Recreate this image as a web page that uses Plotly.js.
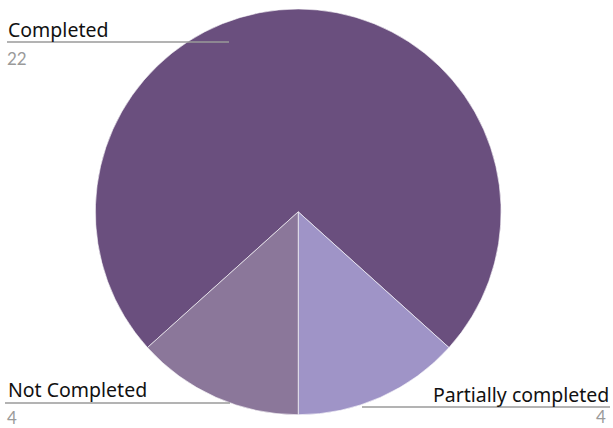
<!DOCTYPE html>
<html>
<head>
<meta charset="utf-8">
<script src="https://cdn.plot.ly/plotly-3.0.1.min.js"></script>
<style>html,body{margin:0;padding:0;background:#fff;}#chart{width:613px;height:428px;}</style>
</head>
<body>
<div id="chart"></div>
<script>
const categories = ["Completed", "Partially completed", "Not Completed"];
const counts = [22, 4, 4];
const colors = ["#6a4f7e", "#9f94c7", "#8b779a"];

const trace = {
  type: "pie",
  labels: categories,
  values: counts,
  sort: false,
  direction: "clockwise",
  rotation: -132,
  textinfo: "none",
  hoverinfo: "label+value",
  marker: { colors: colors, line: { color: "rgba(255,255,255,0.6)", width: 1 } },
  domain: { x: [0.155, 0.818], y: [0.031, 0.979] },
  showlegend: false
};

const labelFont = { family: "Noto Sans, sans-serif", size: 19.5, color: "#111111" };
const numFont = { family: "Lato, sans-serif", size: 17, color: "#9a9a9a" };

// label placement: [category index, x px, label y px, number y px, line x0, line x1, line y, anchor]
const placements = [
  [0, 6, 29, 59, 7, 229, 42, "left"],
  [2, 6, 389, 417, 5, 230, 403, "left"],
  [1, 611, 394, 416, 362, 610, 407, "right"]
];

const W = 613, H = 428;
const annotations = [];
const shapes = [];
placements.forEach(p => {
  const [i, x, ly, ny, x0, x1, yl, anchor] = p;
  annotations.push({ xref: "paper", yref: "paper", x: x / W, y: 1 - ly / H, text: categories[i],
    showarrow: false, xanchor: anchor, yanchor: "middle", font: labelFont });
  annotations.push({ xref: "paper", yref: "paper", x: (anchor === "left" ? x : x - 4) / W, y: 1 - ny / H, text: String(counts[i]),
    showarrow: false, xanchor: anchor, yanchor: "middle", font: numFont, borderpad: 0 });
  shapes.push({ type: "line", xref: "paper", yref: "paper", x0: x0 / W, x1: x1 / W, y0: 1 - yl / H, y1: 1 - yl / H,
    line: { color: "#9a9a9a", width: 1.5 } });
});

const layout = {
  width: W, height: H,
  margin: { l: 0, r: 0, t: 0, b: 0 },
  paper_bgcolor: "#ffffff",
  annotations: annotations,
  shapes: shapes
};

Plotly.newPlot("chart", [trace], layout, { displayModeBar: false, staticPlot: true });
</script>
</body>
</html>
